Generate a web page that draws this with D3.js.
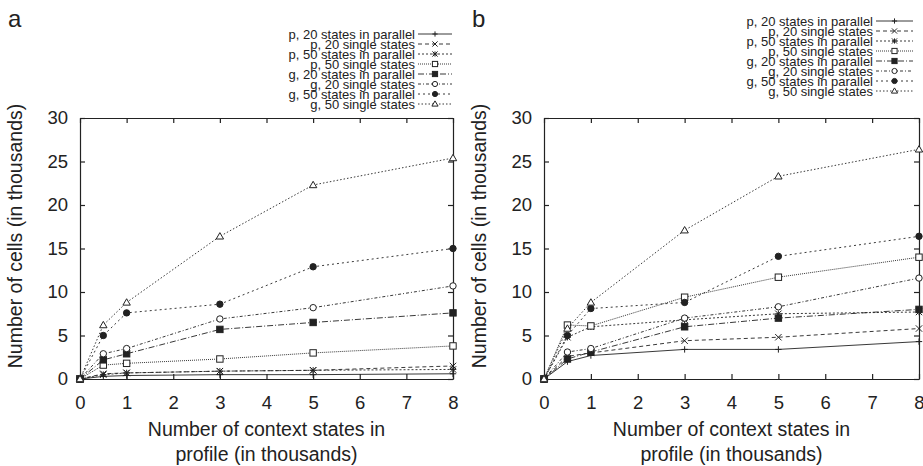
<!DOCTYPE html>
<html>
<head>
<meta charset="utf-8">
<script src="https://cdn.jsdelivr.net/npm/d3@7"></script>
<style>
  body { margin: 0; background: #fff; }
  text { font-family: "Liberation Sans", Arial, sans-serif; fill: #222; }
</style>
</head>
<body>
<svg id="canvas" width="923" height="466"></svg>
<script>
// data (values in thousands)
let xValues = [0, 0.5, 1, 3, 5, 8]
let seriesNames = [
  'p, 20 states in parallel',
  'p, 20 single states',
  'p, 50 states in parallel',
  'p, 50 single states',
  'g, 20 states in parallel',
  'g, 20 single states',
  'g, 50 states in parallel',
  'g, 50 single states'
]
let panelAValues = [
  [0, 0.3, 0.4, 0.5, 0.5, 0.6],
  [0, 0.6, 0.7, 0.9, 1.0, 1.5],
  [0, 0.5, 0.7, 0.9, 1.0, 1.1],
  [0, 1.6, 1.8, 2.3, 3.0, 3.8],
  [0, 2.2, 2.9, 5.7, 6.5, 7.6],
  [0, 2.9, 3.5, 6.9, 8.2, 10.7],
  [0, 5.0, 7.6, 8.6, 12.9, 15.0],
  [0, 6.2, 8.8, 16.4, 22.3, 25.4]
]
let panelBValues = [
  [0, 2.0, 2.7, 3.4, 3.4, 4.3],
  [0, 2.6, 3.0, 4.4, 4.8, 5.8],
  [0, 4.8, 6.0, 6.8, 7.5, 7.7],
  [0, 6.2, 6.1, 9.4, 11.7, 14.0],
  [0, 2.3, 3.1, 6.0, 7.0, 8.0],
  [0, 3.1, 3.5, 7.0, 8.3, 11.6],
  [0, 5.0, 8.1, 8.8, 14.1, 16.4],
  [0, 5.8, 8.8, 17.1, 23.3, 26.4]
]
let xTicks = [0, 1, 2, 3, 4, 5, 6, 7, 8]
let yTicks = [0, 5, 10, 15, 20, 25, 30]

// line style per series
let styles = [
  { dash: null, marker: 'plus' },
  { dash: '4,3', marker: 'cross' },
  { dash: '2,2', marker: 'star' },
  { dash: '1,1', marker: 'square' },
  { dash: '6,2,1,2', marker: 'fsquare' },
  { dash: '3,2,1,2', marker: 'circle' },
  { dash: '2,3', marker: 'fcircle' },
  { dash: '1.5,2', marker: 'triangle' }
]

let canvas = d3.select('#canvas')
let stroke = '#222'

let drawMarker = (g, type, x, y, s) => {
  if (type === 'plus' || type === 'star') {
    g.append('path').attr('d', `M${x - s},${y}H${x + s}M${x},${y - s}V${y + s}`)
      .attr('stroke', stroke).attr('stroke-width', 1)
  }
  if (type === 'cross' || type === 'star') {
    g.append('path').attr('d', `M${x - s},${y - s}L${x + s},${y + s}M${x - s},${y + s}L${x + s},${y - s}`)
      .attr('stroke', stroke).attr('stroke-width', 1)
  }
  if (type === 'square' || type === 'fsquare') {
    g.append('rect').attr('x', x - s).attr('y', y - s).attr('width', 2 * s).attr('height', 2 * s)
      .attr('fill', type === 'fsquare' ? stroke : '#fff').attr('stroke', stroke).attr('stroke-width', 1)
  }
  if (type === 'circle' || type === 'fcircle') {
    g.append('circle').attr('cx', x).attr('cy', y).attr('r', s)
      .attr('fill', type === 'fcircle' ? stroke : '#fff').attr('stroke', stroke).attr('stroke-width', 1)
  }
  if (type === 'triangle') {
    g.append('path').attr('d', `M${x},${y - s - 0.5}L${x + s + 0.5},${y + s - 0.5}L${x - s - 0.5},${y + s - 0.5}Z`)
      .attr('fill', '#fff').attr('stroke', stroke).attr('stroke-width', 1)
  }
}

let drawPanel = (values, left, right, label, legendTextX, legendLineX1, legendLineX2, legendTop) => {
  let top = 118
  let bottom = 379
  let xScale = d3.scaleLinear().domain([0, 8]).range([left, right])
  let yScale = d3.scaleLinear().domain([0, 30]).range([bottom, top])
  let g = canvas.append('g')

  // axes with inward ticks, mirrored on top and right
  let xAxis = d3.axisBottom(xScale).tickValues(xTicks).tickSizeInner(-5).tickSizeOuter(0).tickPadding(12)
  let yAxis = d3.axisLeft(yScale).tickValues(yTicks).tickSizeInner(-5).tickSizeOuter(0).tickPadding(12)
  let xTop = d3.axisTop(xScale).tickValues(xTicks).tickSizeInner(-5).tickSizeOuter(0).tickFormat('')
  let yRight = d3.axisRight(yScale).tickValues(yTicks).tickSizeInner(-5).tickSizeOuter(0).tickFormat('')

  let axes = [
    g.append('g').attr('transform', `translate(0,${bottom})`).call(xAxis),
    g.append('g').attr('transform', `translate(${left},0)`).call(yAxis),
    g.append('g').attr('transform', `translate(0,${top})`).call(xTop),
    g.append('g').attr('transform', `translate(${right},0)`).call(yRight)
  ]
  axes.forEach(a => {
    a.selectAll('path, line').attr('stroke', stroke).attr('stroke-width', 1.2)
    a.selectAll('text').attr('font-size', 18.5).attr('fill', '#222')
      .style('font-family', '"Liberation Sans", Arial, sans-serif')
  })
  axes[0].selectAll('text').attr('dy', '0.95em')

  // lines and markers
  let line = d3.line().x((d, i) => xScale(xValues[i])).y(d => yScale(d))
  values.forEach((series, k) => {
    g.append('path').datum(series).attr('d', line)
      .attr('fill', 'none').attr('stroke', stroke).attr('stroke-width', 0.9)
      .attr('stroke-dasharray', styles[k].dash)
    series.forEach((v, i) => drawMarker(g, styles[k].marker, xScale(xValues[i]), yScale(v), 3.2))
  })

  // legend, rows packed tight as in the original
  seriesNames.forEach((name, k) => {
    let y = legendTop + k * 10
    g.append('text').attr('x', legendTextX).attr('y', y).attr('dy', '0.36em')
      .attr('text-anchor', 'end').attr('font-size', 13).text(name)
    g.append('line').attr('x1', legendLineX1).attr('x2', legendLineX2).attr('y1', y).attr('y2', y)
      .attr('stroke', stroke).attr('stroke-width', 0.9).attr('stroke-dasharray', styles[k].dash)
    drawMarker(g, styles[k].marker, (legendLineX1 + legendLineX2) / 2, y, 2.6)
  })

  // titles
  let cx = (left + right) / 2
  g.append('text').attr('x', cx).attr('y', 436).attr('text-anchor', 'middle').attr('font-size', 19.5)
    .text('Number of context states in')
  g.append('text').attr('x', cx).attr('y', 461).attr('text-anchor', 'middle').attr('font-size', 19.5)
    .text('profile (in thousands)')
  g.append('text').attr('transform', `translate(${left - 58},236) rotate(-90)`)
    .attr('text-anchor', 'middle').attr('font-size', 19.5).text('Number of cells (in thousands)')
  g.append('text').attr('x', left - 72).attr('y', 27).attr('font-size', 24).text(label)
}

drawPanel(panelAValues, 80, 453, 'a', 415, 418, 452, 34)
drawPanel(panelBValues, 544, 919, 'b', 873, 876, 913, 21)
</script>
</body>
</html>
